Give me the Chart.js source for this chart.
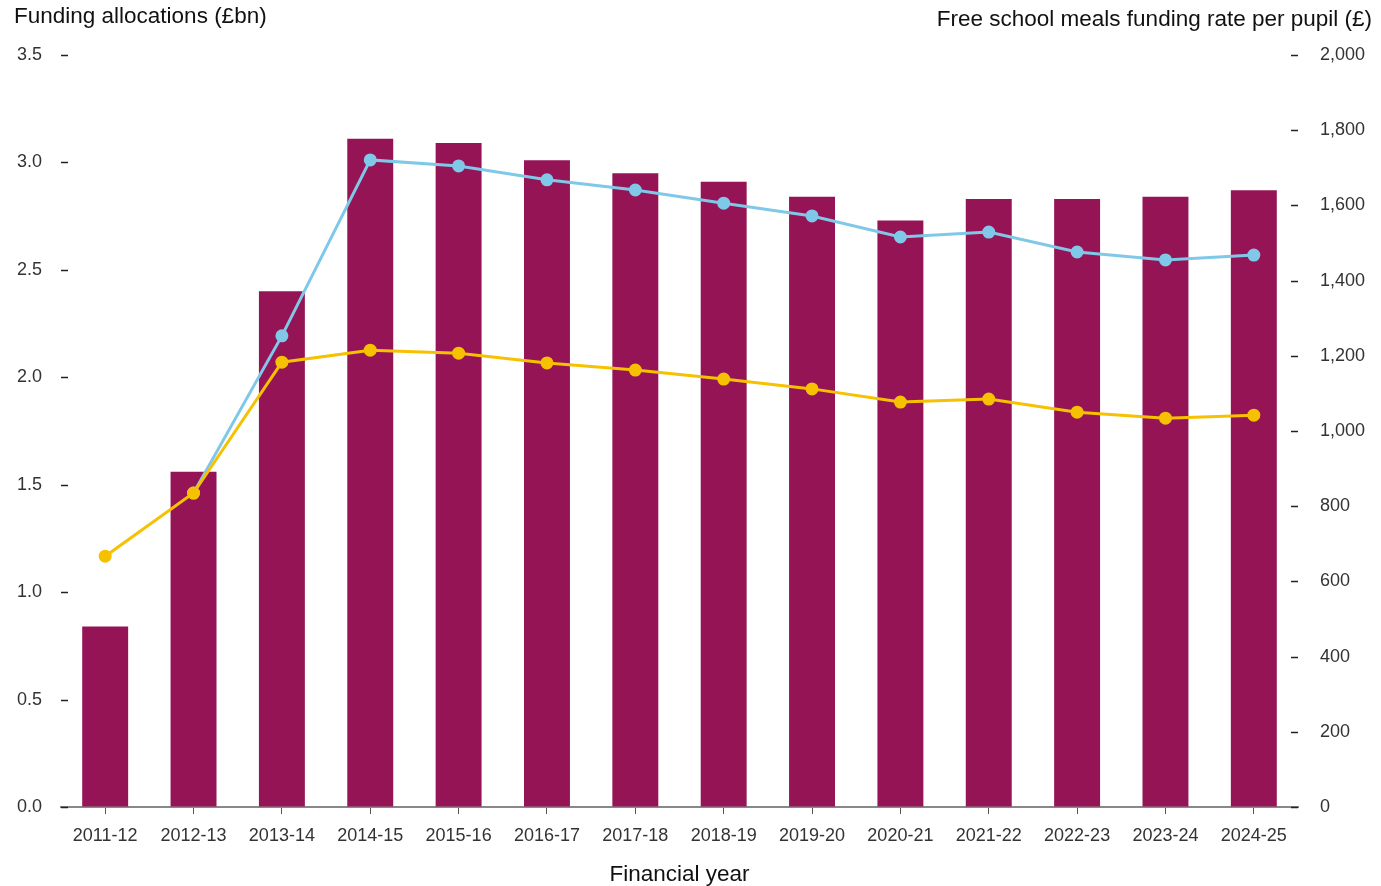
<html>

<head>
    <title>Free school meals funding</title>
    <script src="https://cdn.jsdelivr.net/npm/chart.js@4/dist/chart.umd.min.js"></script>
    <style>
        body { margin: 0; background: #fff; }
        #box { width: 1381px; height: 886px; }
    </style>
</head>

<body>
    <div id="box">
        <canvas id="fsmChart" width="1381" height="886"></canvas>
    </div>

    <script>
        var years = ['2011-12', '2012-13', '2013-14', '2014-15', '2015-16', '2016-17', '2017-18',
            '2018-19', '2019-20', '2020-21', '2021-22', '2022-23', '2023-24', '2024-25'];
        // funding allocations, £bn (left axis)
        var allocations = [0.84, 1.56, 2.40, 3.11, 3.09, 3.01, 2.95, 2.91, 2.84, 2.73, 2.83, 2.83, 2.84, 2.87];
        // funding rate per pupil, £ (right axis)
        var rateBlue = [null, 835, 1253, 1721, 1705, 1668, 1641, 1606, 1572, 1516, 1529, 1476, 1455, 1468];
        var rateYellow = [667, 835, 1183, 1215, 1207, 1181, 1162, 1138, 1112, 1077, 1085, 1050, 1034, 1042];

        var leftTitle = 'Funding allocations (£bn)';
        var rightTitle = 'Free school meals funding rate per pupil (£)';
        var xTitle = 'Financial year';

        var fontFamily = '"Liberation Sans", Arial, sans-serif';
        Chart.defaults.font.family = fontFamily;
        Chart.defaults.color = '#333';

        // axis headings above the plot + the little tick dashes on both y axes
        const decorations = {
            id: 'decorations',
            afterDraw(chart) {
                const ctx = chart.ctx;
                const area = chart.chartArea;
                ctx.save();
                ctx.fillStyle = '#111';
                ctx.font = '22.5px ' + fontFamily;
                ctx.textBaseline = 'middle';
                ctx.textAlign = 'left';
                ctx.fillText(leftTitle, 14, 17);
                ctx.textAlign = 'right';
                ctx.fillText(rightTitle, 1372, 20);

                ctx.strokeStyle = '#222';
                ctx.lineWidth = 1.5;
                const yl = chart.scales.yL;
                yl.ticks.forEach((t, i) => {
                    const y = Math.round(yl.getPixelForTick(i)) + 0.5;
                    ctx.beginPath();
                    ctx.moveTo(area.left, y);
                    ctx.lineTo(area.left + 7, y);
                    ctx.stroke();
                });
                const yr = chart.scales.yR;
                yr.ticks.forEach((t, i) => {
                    const y = Math.round(yr.getPixelForTick(i)) + 0.5;
                    ctx.beginPath();
                    ctx.moveTo(area.right - 7, y);
                    ctx.lineTo(area.right, y);
                    ctx.stroke();
                });
                ctx.restore();
            }
        };

        const config = {
            type: 'bar',
            data: {
                labels: years,
                datasets: [
                    {
                        type: 'line',
                        data: rateYellow,
                        yAxisID: 'yR',
                        borderColor: '#f6c100',
                        backgroundColor: '#f6c100',
                        borderWidth: 3,
                        pointRadius: 5,
                        pointHoverRadius: 5,
                        tension: 0,
                        order: 1
                    },
                    {
                        type: 'line',
                        data: rateBlue,
                        yAxisID: 'yR',
                        borderColor: '#80c8e8',
                        backgroundColor: '#80c8e8',
                        borderWidth: 3,
                        pointRadius: 5,
                        pointHoverRadius: 5,
                        tension: 0,
                        order: 2
                    },
                    {
                        data: allocations,
                        yAxisID: 'yL',
                        backgroundColor: '#951456',
                        barPercentage: 0.52,
                        categoryPercentage: 1,
                        order: 3
                    }
                ]
            },
            options: {
                responsive: false,
                animation: false,
                layout: { padding: { top: 55, left: 14, right: 0, bottom: 0 } },
                plugins: {
                    legend: { display: false },
                    tooltip: { enabled: false }
                },
                scales: {
                    x: {
                        offset: true,
                        border: { display: true, color: '#888', width: 2 },
                        grid: { drawOnChartArea: false, offset: false, tickLength: 7, color: '#555', lineWidth: 1 },
                        ticks: { font: { size: 18 }, color: '#333', padding: 11, maxRotation: 0 },
                        title: {
                            display: true, text: xTitle, color: '#111',
                            font: { size: 22.5, lineHeight: 1 }, padding: { top: 8, bottom: 0 }
                        },
                        afterFit: (scale) => { scale.height = 79; }
                    },
                    yL: {
                        position: 'left',
                        min: 0,
                        max: 3.5,
                        border: { display: false },
                        grid: { drawOnChartArea: false, drawTicks: false },
                        ticks: {
                            stepSize: 0.5,
                            font: { size: 18 },
                            color: '#333',
                            padding: 19,
                            callback: (v) => v.toFixed(1)
                        },
                        afterFit: (scale) => { scale.width = 47; }
                    },
                    yR: {
                        position: 'right',
                        min: 0,
                        max: 2000,
                        border: { display: false },
                        grid: { drawOnChartArea: false, drawTicks: false },
                        ticks: {
                            stepSize: 200,
                            font: { size: 18 },
                            color: '#333',
                            padding: 22,
                            callback: (v) => v.toLocaleString('en-GB')
                        },
                        afterFit: (scale) => { scale.width = 83; }
                    }
                }
            },
            plugins: [decorations]
        };

        var ctx = document.getElementById('fsmChart').getContext('2d');
        var fsmChart = new Chart(ctx, config);
    </script>
</body>

</html>
